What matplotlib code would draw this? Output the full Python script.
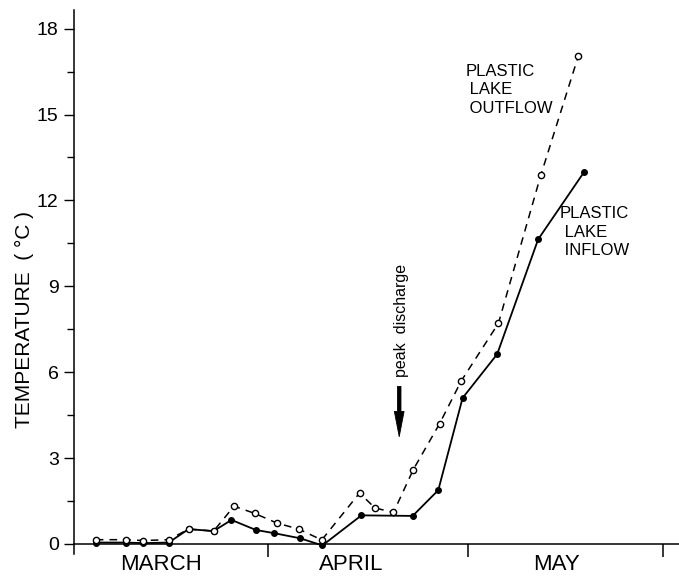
"""Plastic Lake inflow / outflow water temperature, March to May."""

import matplotlib
matplotlib.use("Agg")
import matplotlib.pyplot as plt

plt.rcParams["font.family"] = ["Liberation Sans", "DejaVu Sans"]

# days since 1 March
INFLOW_DAY = [3.4, 8.1, 10.8, 14.8, 17.9, 21.8, 24.6, 28.4, 31.2, 35.3, 38.8,
              44.9, 52.9, 56.9, 60.7, 66.1, 72.5, 79.7]
INFLOW_TEMP = [0.05, 0.05, 0.03, 0.05, 0.52, 0.45, 0.84, 0.49, 0.38, 0.2, -0.05,
               1.0, 0.98, 1.88, 5.1, 6.63, 10.64, 13.0]

OUTFLOW_DAY = [3.4, 8.1, 10.8, 14.8, 17.9, 21.8, 25.0, 28.2, 31.7, 35.1, 38.7,
               44.6, 47.0, 49.9, 53.0, 57.1, 60.5, 66.3, 72.9, 78.8]
OUTFLOW_TEMP = [0.15, 0.15, 0.12, 0.15, 0.52, 0.45, 1.32, 1.07, 0.73, 0.52, 0.14,
                1.78, 1.26, 1.1, 2.6, 4.2, 5.7, 7.71, 12.87, 17.06]

MONTH_EDGES = [30.3, 61.5, 92.0]
MONTH_NAMES = ["MARCH", "APRIL", "MAY"]
MONTH_CENTRES = [13.6, 43.3, 75.3]

Y_TICKS = [0, 3, 6, 9, 12, 15, 18]
Y_MINOR = [1.5, 4.5, 7.5, 10.5, 13.5, 16.5]

PEAK_DAY = 51.1


fig = plt.figure(figsize=(6.79, 5.84), dpi=100)
ax = fig.add_axes([74 / 679, 30 / 584, 605 / 679, 544 / 584])

ax.plot(INFLOW_DAY, INFLOW_TEMP, color="black", lw=1.3, marker="o", ms=4,
        mfc="black", mec="black", zorder=3)
ax.plot(OUTFLOW_DAY, OUTFLOW_TEMP, color="black", lw=1.1, ls=(0, (5, 4)),
        marker="o", ms=4.5, mfc="white", mec="black", mew=1.0, zorder=4)

ax.set_xlim(0, 94.5)
ax.set_ylim(-0.35, 18.65)

for side in ["top", "right"]:
    ax.spines[side].set_visible(False)
ax.spines["bottom"].set_position(("data", 0))
ax.spines["bottom"].set_linewidth(1.1)
ax.spines["left"].set_linewidth(1.1)

ax.set_xticks(MONTH_EDGES)
ax.set_xticklabels([""] * len(MONTH_EDGES))
ax.set_xticks(MONTH_CENTRES, minor=True)
ax.set_xticklabels(MONTH_NAMES, minor=True, fontsize=16)
ax.tick_params(axis="x", which="major", direction="out", length=9, width=1.1)
ax.tick_params(axis="x", which="minor", length=0, pad=7.5)

ax.set_yticks(Y_TICKS)
ax.set_yticks(Y_MINOR, minor=True)
ax.tick_params(axis="y", which="major", length=7, width=1.0, labelsize=14, pad=4)
ax.tick_params(axis="y", which="minor", length=5, width=1.0)

fig.text(24 / 679, 1 - 320 / 584, "TEMPERATURE  ( °C )", rotation=90,
         ha="center", va="center", fontsize=15)

ax.text(61.1, 16.77, "PLASTIC\n LAKE\n OUTFLOW", ha="left", va="top",
        fontsize=12, linespacing=1.3)
ax.text(75.9, 11.8, "PLASTIC\n LAKE\n INFLOW", ha="left", va="top",
        fontsize=12, linespacing=1.3)

ax.text(PEAK_DAY, 7.8, "peak  discharge", rotation=90, ha="center",
        va="center", fontsize=11.5)
ax.annotate("", xy=(PEAK_DAY - 0.3, 3.65), xytext=(PEAK_DAY - 0.3, 5.6),
            arrowprops=dict(arrowstyle="simple,head_length=1.3,head_width=0.5,tail_width=0.18",
                            fc="black", ec="black", lw=0.6, mutation_scale=14))

fig.savefig("out.png", dpi=100)
